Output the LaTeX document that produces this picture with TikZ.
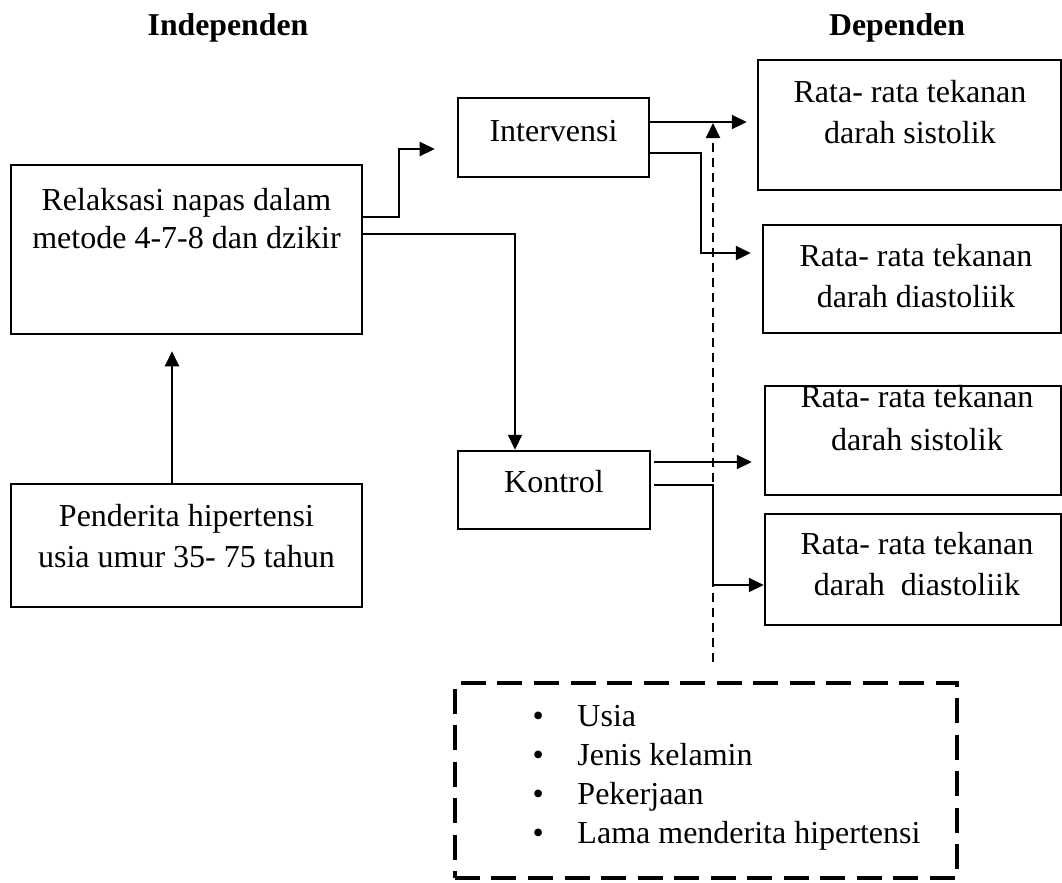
\documentclass[tikz,border=0pt]{standalone}
\usepackage{fontspec}
\setmainfont{Liberation Serif}
\usetikzlibrary{arrows.meta}
\tikzset{
  box/.style={draw, line width=1pt, inner sep=0pt},
  txt/.style={align=center, font=\fontsize{12.8pt}{16.4pt}\selectfont, inner sep=0pt, anchor=base},
  head/.style={font=\fontsize{12.7pt}{14pt}\selectfont\bfseries, inner sep=0pt, anchor=base},
  arr/.style={line width=0.85pt, -{Triangle[length=6pt,width=5.6pt]}},
  dasharr/.style={arr, dash pattern=on 3.6pt off 2.4pt},
  factorbox/.style={draw, line width=1.3pt, dash pattern=on 10pt off 4.6pt, inner sep=0pt}
}
\begin{document}
\begin{tikzpicture}[x=0.4pt, y=-0.4pt]
\useasboundingbox (0,0) rectangle (1062,882);
%headings
\node[head] (indep) at (228,35) {Independen};
\node[head] (dep) at (897,35) {Dependen};
%left column (text nodes sit on their last baseline)
\node[box, minimum width=140.4pt, minimum height=67.6pt] (relaksasi) at (186.5,249.5) {};
\node[txt] (relaksasi txt) at (186.5,248) {Relaksasi napas dalam\\[-1.2pt]metode 4-7-8 dan dzikir};
\node[box, minimum width=140.4pt, minimum height=49.2pt] (penderita) at (186.5,545.5) {};
\node[txt] (penderita txt) at (186.5,567) {Penderita hipertensi\\usia umur 35- 75 tahun};
%groups
\node[box, minimum width=76.4pt, minimum height=31.6pt] (intervensi) at (553.5,137.5) {};
\node[txt] (intervensi txt) at (553.5,141) {Intervensi};
\node[box, minimum width=76.8pt, minimum height=31.2pt] (kontrol) at (554,490) {};
\node[txt] (kontrol txt) at (554,492) {Kontrol};
%outcomes
\foreach \n/\x/\y/\w/\h in {sis1/909.5/125/121.2/52, dia1/912/279/119.2/43.2,
    sis2/913/440.5/118.4/43.6, dia2/913/569.5/118.4/44.4}
  \node[box, minimum width=\w pt, minimum height=\h pt] (\n) at (\x,\y) {};
\node[txt] (sis1 txt) at (910,143) {Rata- rata tekanan\\darah sistolik};
\node[txt] (dia1 txt) at (916,307) {Rata- rata tekanan\\darah diastoliik};
\node[txt] (sis2 txt) at (917,450) {Rata- rata tekanan\\[0.8pt]darah sistolik};
\node[txt] (dia2 txt) at (917,595) {Rata- rata tekanan\\darah\ \ diastoliik};
%confounders
\node[factorbox, minimum width=200.8pt, minimum height=78pt] (factors) at (706,780.5) {};
\node[txt, align=left, anchor=base west, font=\fontsize{12.8pt}{15.6pt}\selectfont] (factors txt) at (532,843)
  {\makebox[18pt][l]{\textbullet}Usia\\\makebox[18pt][l]{\textbullet}Jenis kelamin\\
   \makebox[18pt][l]{\textbullet}Pekerjaan\\\makebox[18pt][l]{\textbullet}Lama menderita hipertensi};
\coordinate (conf) at (713,662);
%arrows
\draw[arr] (penderita.north -| 172,0) -- (relaksasi.south -| 172,0) [shorten >=6.4pt];
\draw[arr, shorten >=8.8pt] (relaksasi.east |- 0,217) -| (399,149) -- (intervensi.west |- 0,149);
\draw[arr] (relaksasi.east |- 0,234) -| (kontrol.north -| 515,0);
\draw[arr, shorten >=4pt] (intervensi.east |- 0,122) -- (sis1.west |- 0,122);
\draw[arr, shorten >=4.4pt] (intervensi.east |- 0,153) -| (701,253) -- (dia1.west |- 0,253);
\draw[arr, shorten <=1.2pt, shorten >=4.8pt] (kontrol.east |- 0,462) -- (sis2.west |- 0,462);
\draw[arr, shorten <=1.2pt] (kontrol.east |- 0,485) -| (713,585) -- (dia2.west |- 0,585);
\draw[dasharr] (conf) -- (conf |- 0,123);
\end{tikzpicture}
\end{document}
